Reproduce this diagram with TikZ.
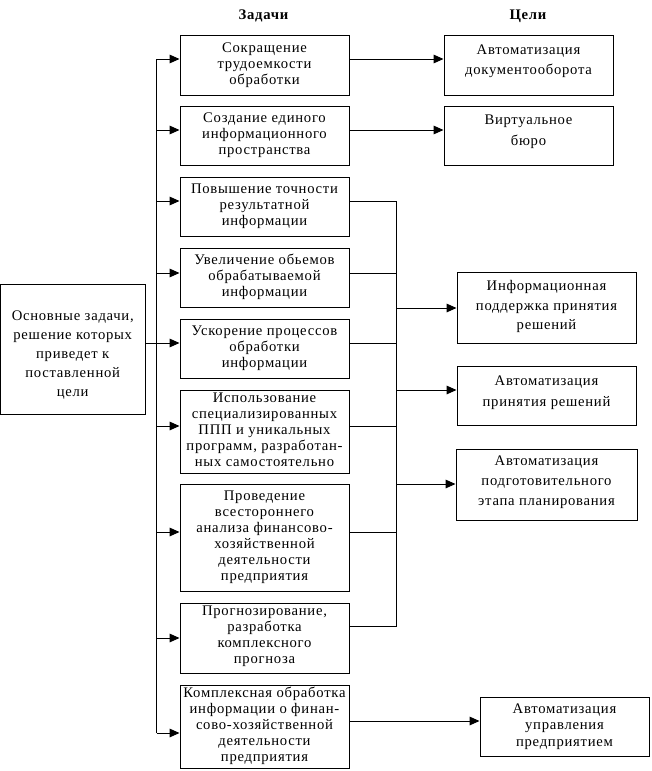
\documentclass[tikz,border=0pt]{standalone}
\usepackage{fontspec}
\setmainfont{Liberation Serif}[LetterSpace=5]
\usetikzlibrary{arrows.meta}
\newcommand\btext[2][0]{\raisebox{\dimexpr#1pt-2.7pt\relax}[0pt][0pt]{\begin{tabular}{@{}c@{}}#2\end{tabular}}}
\tikzset{
  box/.style={draw, line width=0.75pt, inner sep=0pt, font=\fontsize{11}{12}\selectfont},
  tbox/.style={box, minimum width=126.75pt},
  gfont/.style={font=\fontsize{11}{#1}\selectfont},
  conn/.style={line width=0.75pt},
  arr/.style={conn, -{Triangle[length=7.5pt,width=6.5pt]}},
  head/.style={font=\fontsize{11}{12}\selectfont\bfseries, inner sep=0pt}
}
\begin{document}
\begin{tikzpicture}[x=0.75pt,y=-0.75pt]
\useasboundingbox (0,0) rectangle (651,771);
% headings
\node[head] (hz) at (263.5,16) {Задачи};
\node[head] (hc) at (528,16) {Цели};
% left box
\node[box, minimum width=108.4pt, minimum height=97.5pt, gfont=14.25] (L) at (72.75,349)
  {\btext[-4.5]{Основные задачи,\\решение которых\\приведет к\\поставленной\\цели}};
% tasks
\node[tbox, minimum height=45pt] (t1) at (264.5,65) {\btext[-0.5]{Сокращение\\трудоемкости\\обработки}};
\node[tbox, minimum height=44.25pt] (t2) at (264.5,135.5) {\btext{Создание единого\\информационного\\пространства}};
\node[tbox, minimum height=44.25pt] (t3) at (264.5,206.5) {\btext{Повышение точности\\результатной\\информации}};
\node[tbox, minimum height=44.25pt] (t4) at (264.5,277.5) {\btext{Увеличение обьемов\\обрабатываемой\\информации}};
\node[tbox, minimum height=44.25pt] (t5) at (264.5,348.5) {\btext{Ускорение процессов\\обработки\\информации}};
\node[tbox, minimum height=62.25pt] (t6) at (264.5,431.5) {\btext{Использование\\специализированных\\ППП и уникальных\\программ, разработан-\\ных самостоятельно}};
\node[tbox, minimum height=80.25pt] (t7) at (264.5,537.5) {\btext{Проведение\\всестороннего\\анализа финансово-\\хозяйственной\\деятельности\\предприятия}};
\node[tbox, minimum height=52.5pt] (t8) at (264.5,638) {\btext[1]{Прогнозирование,\\разработка\\комплексного\\прогноза}};
\node[tbox, minimum height=62.25pt] (t9) at (264.5,726.5) {\btext{Комплексная обработка\\информации о финан-\\сово-хозяйственной\\деятельности\\предприятия}};
% goals
\node[box, minimum width=126.75pt, minimum height=45pt, gfont=15] (g1) at (528.5,65) {\btext[3]{Автоматизация\\документооборота}};
\node[box, minimum width=126.75pt, minimum height=44.25pt, gfont=15.75] (g2) at (528.5,135.5) {\btext[3.4]{Виртуальное\\бюро}};
\node[box, minimum width=134.25pt, minimum height=53.25pt, gfont=14.6] (g3) at (546.5,307.5) {\btext[0.75]{Информационная\\поддержка принятия\\решений}};
\node[box, minimum width=134.25pt, minimum height=44.25pt, gfont=15.75] (g4) at (546.5,395.5) {\btext[3]{Автоматизация\\принятия решений}};
\node[box, minimum width=135.75pt, minimum height=53.25pt, gfont=15] (g5) at (546.5,484.5) {\btext[1.9]{Автоматизация\\подготовительного\\этапа планирования}};
\node[box, minimum width=126.75pt, minimum height=44.25pt, gfont=12.4] (g6) at (564.5,726.5) {\btext{Автоматизация\\управления\\предприятием}};
% left bus
\foreach \i/\y in {1/59,2/130,3/201,4/273,5/343,6/426,7/532,8/638,9/733}
  \coordinate (b\i) at (156.5,\y);
\draw[conn] (b1) -- (b9);
\foreach \i in {1,...,9}
  \draw[arr] (b\i) -- (t\i.west |- b\i);
\draw[conn] (L.east |- b5) -- (b5);
% direct links
\draw[arr] (t1.east |- b1) -- (g1.west |- b1);
\draw[arr] (t2.east |- b2) -- (g2.west |- b2);
% right bus
\foreach \i/\y in {3/201,4/273,5/343,6/426,7/532,8/626}
  \coordinate (c\i) at (396.5,\y);
\draw[conn] (c3) -- (c8);
\foreach \i in {3,...,8}
  \draw[conn] (t\i.east |- c\i) -- (c\i);
\coordinate (d3) at (396.5,308);
\coordinate (d4) at (396.5,390);
\coordinate (d5) at (396.5,484);
\draw[arr] (d3) -- (g3.west |- d3);
\draw[arr] (d4) -- (g4.west |- d4);
\draw[arr] (d5) -- (g5.west |- d5);
\coordinate (r9) at (400,721);
\draw[arr] (t9.east |- r9) -- (g6.west |- r9);
\end{tikzpicture}
\end{document}
